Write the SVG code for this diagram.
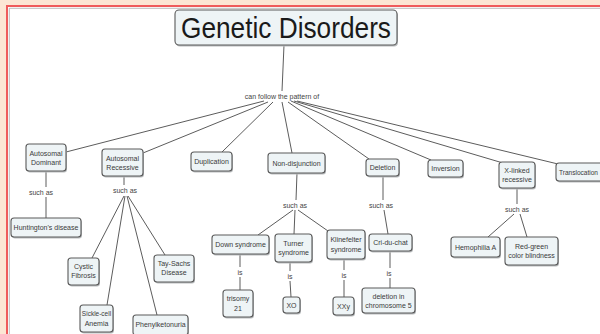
<svg xmlns="http://www.w3.org/2000/svg" width="600" height="334" viewBox="0 0 600 334">
<defs>
<style>
.bg{fill:#fce6d4}
.box{fill:#eef4f6;stroke:#5a5a5a;stroke-width:1.1}
.sh{fill:#b9bcbe}
.t{font-family:"Liberation Sans",Arial,sans-serif;font-size:7px;fill:#3a3a3a;text-anchor:middle}
.lbl{font-family:"Liberation Sans",Arial,sans-serif;font-size:7px;fill:#444;text-anchor:middle}
.title{font-family:"Liberation Sans",Arial,sans-serif;font-size:29px;fill:#1a1a1a;text-anchor:middle}
.c{stroke:#5c5c5c;stroke-width:1;fill:none}
</style>
</defs>
<rect class="bg" x="0" y="0" width="600" height="334"/>
<rect x="7" y="6" width="600" height="340" fill="#ffffff"/>
<line x1="7" y1="6" x2="600" y2="6" stroke="#ef5b5b" stroke-width="2"/>
<line x1="7" y1="5" x2="7" y2="334" stroke="#ef5b5b" stroke-width="2"/>
<line x1="9.3" y1="8.3" x2="600" y2="8.3" stroke="#a9a9a9" stroke-width="0.8"/>
<line x1="9.3" y1="8.3" x2="9.3" y2="334" stroke="#a9a9a9" stroke-width="0.8"/>

<g id="connectors">
<line class="c" x1="284" y1="45" x2="282" y2="91"/>
<line class="c" x1="264" y1="101" x2="66" y2="152"/>
<line class="c" x1="268" y1="102" x2="143" y2="153"/>
<line class="c" x1="273" y1="102" x2="222" y2="152"/>
<line class="c" x1="282" y1="102" x2="292" y2="153"/>
<line class="c" x1="288" y1="102" x2="369" y2="159"/>
<line class="c" x1="291" y1="101" x2="431" y2="160"/>
<line class="c" x1="294" y1="101" x2="503" y2="163"/>
<line class="c" x1="297" y1="101" x2="558" y2="164"/>
<line class="c" x1="46" y1="171" x2="46" y2="187"/>
<line class="c" x1="46" y1="197" x2="46" y2="218"/>
<line class="c" x1="124" y1="176" x2="124" y2="185"/>
<line class="c" x1="124" y1="196" x2="92" y2="258"/>
<line class="c" x1="125" y1="196" x2="107" y2="305"/>
<line class="c" x1="127" y1="196" x2="157" y2="315"/>
<line class="c" x1="128" y1="196" x2="165" y2="255"/>
<line class="c" x1="297" y1="173" x2="296" y2="200"/>
<line class="c" x1="293" y1="210" x2="258" y2="235"/>
<line class="c" x1="295" y1="210" x2="294" y2="234"/>
<line class="c" x1="298" y1="210" x2="328" y2="231"/>
<line class="c" x1="240" y1="254" x2="240" y2="267"/>
<line class="c" x1="240" y1="277" x2="240" y2="290"/>
<line class="c" x1="290" y1="262" x2="290" y2="271"/>
<line class="c" x1="290" y1="281" x2="291" y2="297"/>
<line class="c" x1="344" y1="259" x2="344" y2="270"/>
<line class="c" x1="344" y1="280" x2="344" y2="297"/>
<line class="c" x1="383" y1="176" x2="383" y2="200"/>
<line class="c" x1="384" y1="210" x2="388" y2="234"/>
<line class="c" x1="390" y1="251" x2="390" y2="268"/>
<line class="c" x1="390" y1="278" x2="390" y2="288"/>
<line class="c" x1="517" y1="188" x2="517" y2="204"/>
<line class="c" x1="514" y1="214" x2="488" y2="237"/>
<line class="c" x1="520" y1="214" x2="527" y2="237"/>
<text class="lbl" x="282" y="98.5">can follow the pattern of</text>
<text class="lbl" x="41" y="194.5">such as</text>
<text class="lbl" x="125" y="193">such as</text>
<text class="lbl" x="295" y="207.5">such as</text>
<text class="lbl" x="381" y="207.5">such as</text>
<text class="lbl" x="517" y="211.5">such as</text>
<text class="lbl" x="240" y="274.5">is</text>
<text class="lbl" x="290" y="278.5">is</text>
<text class="lbl" x="344" y="277.5">is</text>
<text class="lbl" x="389" y="275.5">is</text>
</g>

<g id="title">
<rect class="sh" x="176" y="11.5" width="222" height="35" rx="4"/>
<rect class="box" x="175" y="10" width="222" height="35" rx="4"/>
<text class="title" x="286" y="38" textLength="210" lengthAdjust="spacingAndGlyphs">Genetic Disorders</text>
</g>

<g id="autosomal-dominant">
<rect class="sh" x="27" y="145.5" width="40" height="27" rx="3"/>
<rect class="box" x="26" y="144" width="40" height="27" rx="3"/>
<text class="t" x="46" y="155.5">Autosomal</text>
<text class="t" x="46" y="164.5">Dominant</text>
</g>
<g id="autosomal-recessive">
<rect class="sh" x="103" y="150.5" width="41" height="27" rx="3"/>
<rect class="box" x="102" y="149" width="41" height="27" rx="3"/>
<text class="t" x="122.5" y="160.5">Autosomal</text>
<text class="t" x="122.5" y="169.5">Recessive</text>
</g>
<g id="duplication">
<rect class="sh" x="192" y="153.5" width="41" height="19" rx="3"/>
<rect class="box" x="191" y="152" width="41" height="19" rx="3"/>
<text class="t" x="211.5" y="164">Duplication</text>
</g>
<g id="non-disjunction">
<rect class="sh" x="269" y="154.5" width="57" height="20" rx="3"/>
<rect class="box" x="268" y="153" width="57" height="20" rx="3"/>
<text class="t" x="296.5" y="165.5">Non-disjunction</text>
</g>
<g id="deletion">
<rect class="sh" x="367" y="160.5" width="33" height="17" rx="3"/>
<rect class="box" x="366" y="159" width="33" height="17" rx="3"/>
<text class="t" x="382.5" y="170">Deletion</text>
</g>
<g id="inversion">
<rect class="sh" x="429" y="161.5" width="35" height="17" rx="3"/>
<rect class="box" x="428" y="160" width="35" height="17" rx="3"/>
<text class="t" x="445.5" y="171">Inversion</text>
</g>
<g id="x-linked">
<rect class="sh" x="500" y="163.5" width="36" height="26" rx="3"/>
<rect class="box" x="499" y="162" width="36" height="26" rx="3"/>
<text class="t" x="517" y="173">X-linked</text>
<text class="t" x="517" y="182">recessive</text>
</g>
<g id="translocation">
<rect class="sh" x="557" y="164.5" width="56" height="18" rx="3"/>
<rect class="box" x="556" y="163" width="56" height="18" rx="3"/>
<text class="t" x="559" y="174.5" style="text-anchor:start" textLength="39" lengthAdjust="spacingAndGlyphs">Translocation</text>
</g>

<g id="huntingtons">
<rect class="sh" x="12" y="219.5" width="70" height="19" rx="3"/>
<rect class="box" x="11" y="218" width="70" height="19" rx="3"/>
<text class="t" x="46" y="230">Huntington's disease</text>
</g>
<g id="cystic-fibrosis">
<rect class="sh" x="69" y="259.5" width="31" height="27" rx="3"/>
<rect class="box" x="68" y="258" width="31" height="27" rx="3"/>
<text class="t" x="83.5" y="269">Cystic</text>
<text class="t" x="83.5" y="278">Fibrosis</text>
</g>
<g id="tay-sachs">
<rect class="sh" x="155" y="256.5" width="40" height="27" rx="3"/>
<rect class="box" x="154" y="255" width="40" height="27" rx="3"/>
<text class="t" x="174" y="266">Tay-Sachs</text>
<text class="t" x="174" y="275">Disease</text>
</g>
<g id="sickle-cell">
<rect class="sh" x="81" y="306.5" width="33" height="27" rx="3"/>
<rect class="box" x="80" y="305" width="33" height="27" rx="3"/>
<text class="t" x="96.5" y="316" style="font-size:6.5px">Sickle-cell</text>
<text class="t" x="96.5" y="325.5">Anemia</text>
</g>
<g id="phenylketonuria">
<rect class="sh" x="134" y="316.5" width="55" height="20" rx="3"/>
<rect class="box" x="133" y="315" width="55" height="20" rx="3"/>
<text class="t" x="160.5" y="327">Phenylketonuria</text>
</g>

<g id="down-syndrome">
<rect class="sh" x="213" y="236.5" width="57" height="19" rx="3"/>
<rect class="box" x="212" y="235" width="57" height="19" rx="3"/>
<text class="t" x="240.5" y="247">Down syndrome</text>
</g>
<g id="turner">
<rect class="sh" x="276" y="235.5" width="37" height="28" rx="3"/>
<rect class="box" x="275" y="234" width="37" height="28" rx="3"/>
<text class="t" x="293.5" y="245.5">Turner</text>
<text class="t" x="293.5" y="255">syndrome</text>
</g>
<g id="klinefelter">
<rect class="sh" x="328" y="231.5" width="38" height="29" rx="3"/>
<rect class="box" x="327" y="230" width="38" height="29" rx="3"/>
<text class="t" x="346" y="242">Klinefelter</text>
<text class="t" x="346" y="251.5">syndrome</text>
</g>
<g id="trisomy-21">
<rect class="sh" x="224" y="291.5" width="30" height="27" rx="3"/>
<rect class="box" x="223" y="290" width="30" height="27" rx="3"/>
<text class="t" x="238" y="301">trisomy</text>
<text class="t" x="238" y="311">21</text>
</g>
<g id="xo">
<rect class="sh" x="284" y="298.5" width="17" height="16" rx="3"/>
<rect class="box" x="283" y="297" width="17" height="16" rx="3"/>
<text class="t" x="291.5" y="307.5">XO</text>
</g>
<g id="xxy">
<rect class="sh" x="334" y="298.5" width="21" height="18" rx="3"/>
<rect class="box" x="333" y="297" width="21" height="18" rx="3"/>
<text class="t" x="343.5" y="308.5">XXy</text>
</g>

<g id="cri-du-chat">
<rect class="sh" x="370" y="235.5" width="43" height="17" rx="3"/>
<rect class="box" x="369" y="234" width="43" height="17" rx="3"/>
<text class="t" x="390.5" y="245">Cri-du-chat</text>
</g>
<g id="deletion-chr5">
<rect class="sh" x="363" y="289.5" width="53" height="25" rx="3"/>
<rect class="box" x="362" y="288" width="53" height="25" rx="3"/>
<text class="t" x="388.5" y="298.5">deletion in</text>
<text class="t" x="388.5" y="308">chromosome 5</text>
</g>

<g id="hemophilia">
<rect class="sh" x="452" y="238.5" width="49" height="20" rx="3"/>
<rect class="box" x="451" y="237" width="49" height="20" rx="3"/>
<text class="t" x="475.5" y="249.5">Hemophilia A</text>
</g>
<g id="red-green">
<rect class="sh" x="506" y="238.5" width="53" height="28" rx="3"/>
<rect class="box" x="505" y="237" width="53" height="28" rx="3"/>
<text class="t" x="531.5" y="248.5">Red-green</text>
<text class="t" x="531.5" y="258">color blindness</text>
</g>
</svg>
